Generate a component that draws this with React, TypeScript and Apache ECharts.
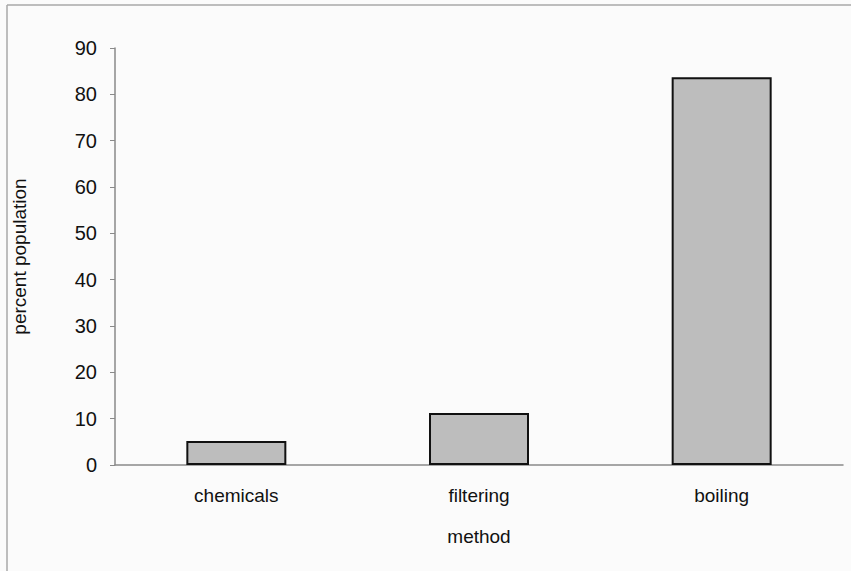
import React, { useEffect, useRef } from "react";
import * as echarts from "echarts";

const categories = ["chemicals", "filtering", "boiling"];
const percentPopulation = [5.2, 11.2, 83.7];
const yMin = 0;
const yMax = 90;
const yInterval = 10;

export default function App() {
  const ref = useRef<HTMLDivElement>(null);
  useEffect(() => {
    if (!ref.current) return;
    const chart = echarts.init(ref.current, undefined, { renderer: "svg" });
    const font = "Liberation Sans, Arial, sans-serif";
    chart.setOption({
      animation: false,
      backgroundColor: "#fbfbfb",
      grid: { left: 115, right: 8, top: 48, bottom: 106 },
      xAxis: {
        type: "category",
        data: categories,
        name: "method",
        nameLocation: "middle",
        nameGap: 62,
        nameTextStyle: { fontFamily: font, fontSize: 19, color: "#111" },
        axisLine: { lineStyle: { color: "#8a8a8a", width: 1.5 } },
        axisTick: { show: false },
        axisLabel: { fontFamily: font, fontSize: 19, color: "#111", margin: 21 },
      },
      yAxis: {
        type: "value",
        min: yMin,
        max: yMax,
        interval: yInterval,
        name: "percent population",
        nameLocation: "middle",
        nameGap: 86,
        nameTextStyle: { fontFamily: font, fontSize: 19, color: "#111" },
        axisLine: { show: true, lineStyle: { color: "#8a8a8a", width: 1.5 } },
        axisTick: { show: true, inside: false, length: 5, lineStyle: { color: "#8a8a8a" } },
        splitLine: { show: false },
        axisLabel: { fontFamily: font, fontSize: 20, color: "#111", margin: 18 },
      },
      series: [
        {
          type: "bar",
          data: percentPopulation,
          barWidth: 100,
          itemStyle: { color: "#bdbdbd", borderColor: "#111", borderWidth: 2 },
        },
      ],
      graphic: [
        { type: "line", shape: { x1: 7, y1: 5, x2: 851, y2: 5 }, style: { stroke: "#a8a8a8", lineWidth: 1.5 } },
        { type: "line", shape: { x1: 7, y1: 5, x2: 7, y2: 571 }, style: { stroke: "#a8a8a8", lineWidth: 1.5 } },
      ],
    });
    return () => chart.dispose();
  }, []);
  return (
    <div
      ref={ref}
      style={{ position: "fixed", left: 0, top: 0, width: 851, height: 571 }}
    />
  );
}
